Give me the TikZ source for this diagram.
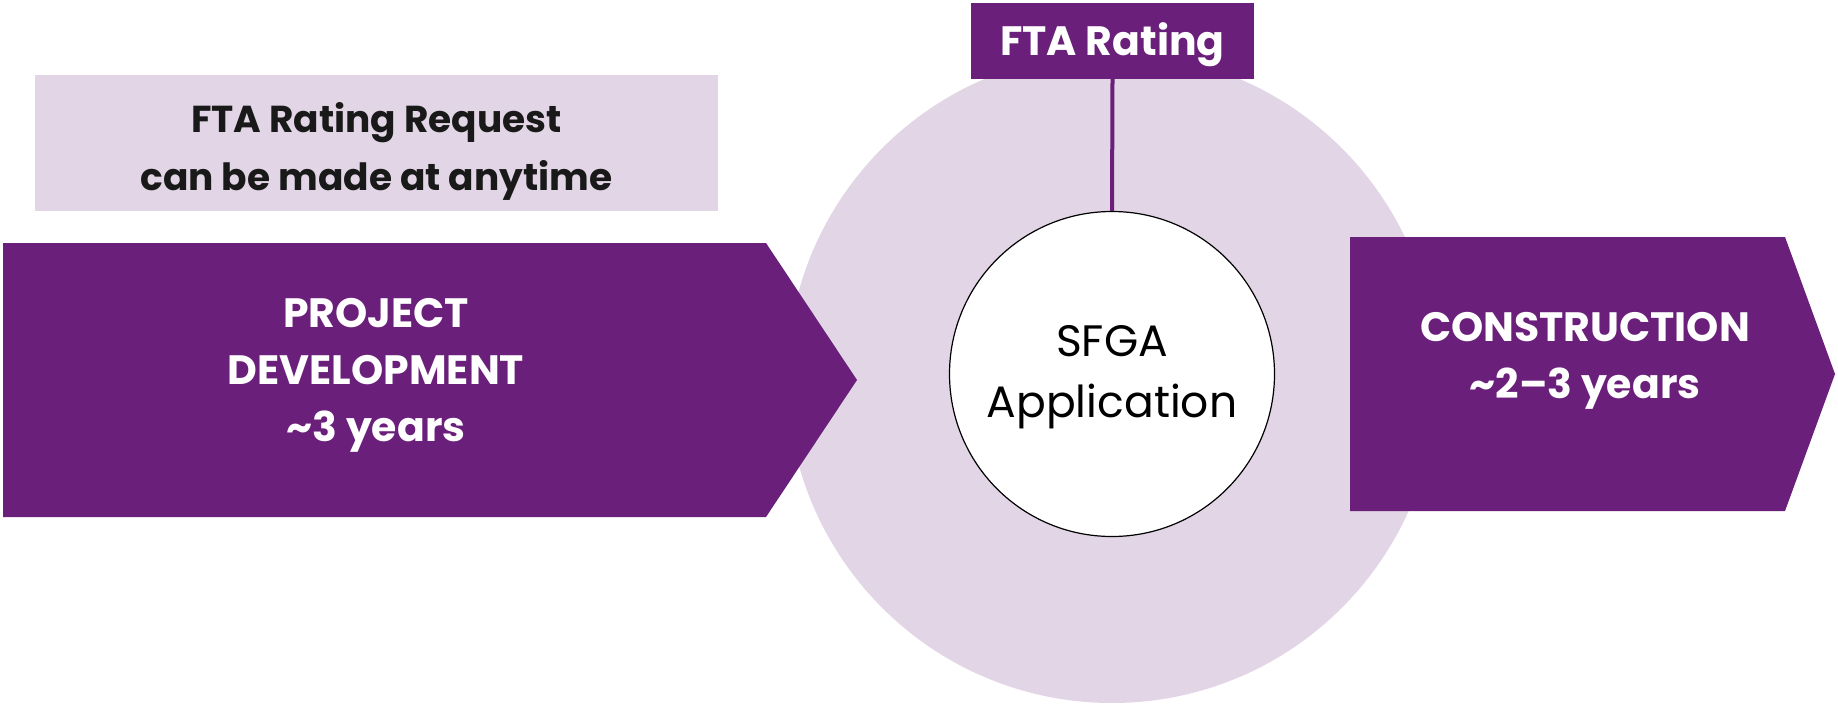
\documentclass[tikz,border=0pt]{standalone}
\usepackage{fontspec}
\setmainfont{Poppins}
\definecolor{dp}{RGB}{106,31,122}
\definecolor{lp}{RGB}{226,213,229}
\tikzset{
  bigtxt/.style={align=center,inner sep=0pt,font=\fontsize{39}{57}\selectfont},
  whitetxt/.style={bigtxt,text=white,font=\fontsize{41}{57}\selectfont\bfseries},
}
\begin{document}
\begin{tikzpicture}[x=1pt,y=-1pt]
\useasboundingbox (0,0) rectangle (1838,704);
% big light circle
\fill[lp] (1112,378) circle[radius=325pt];
% request box
\node[fill=lp,minimum width=683pt,minimum height=136pt,inner sep=0pt] (reqbox) at (376.5,143) {};
\node[bigtxt,text=black!90,font=\fontsize{37.5}{58}\selectfont\bfseries] (req) at (376.5,151) {FTA Rating Request\\can be made at anytime};
% left arrow
\fill[dp] (3,243) -- (766,243) -- (857,380) -- (766,517) -- (3,517) -- cycle;
\node[whitetxt] (pd) at (376,375) {PROJECT\\DEVELOPMENT\\\textasciitilde3 years};
% right arrow
\fill[dp] (1350,237) -- (1785,237) -- (1835,374) -- (1785,511) -- (1350,511) -- cycle;
\node[whitetxt] (con) at (1585,361) {CONSTRUCTION\\\textasciitilde2–3 years};
% FTA rating box
\node[fill=dp,text=white,minimum width=283pt,minimum height=76pt,inner sep=0pt,text height=28pt,text depth=0pt,font=\fontsize{41}{47}\selectfont\bfseries] (fta) at (1112.5,41) {FTA Rating};
% SFGA circle
\node[circle,draw=black,line width=1.2pt,fill=white,minimum size=325pt,inner sep=0pt] (sfga) at (1112,374) {};
\node[bigtxt,font=\fontsize{44}{61}\selectfont] (sfgatxt) at (1112,377) {SFGA\\Application};
\draw[dp,line width=4pt] (fta.south) -- (sfga.north);
\end{tikzpicture}
\end{document}
